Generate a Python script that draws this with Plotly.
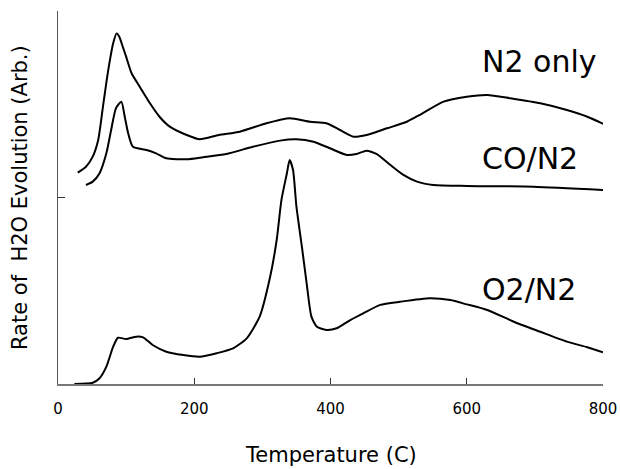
import plotly.graph_objects as go

# Temperature (C) and rate of H2O evolution (arbitrary units)
t_n2 = [29, 41, 51, 59, 66, 73, 81, 86, 90, 95, 100, 108, 120, 135, 149, 164, 189, 208,
        236, 267, 306, 340, 370, 394, 414, 434, 453, 483, 512, 532, 566, 600, 630, 664,
        708, 747, 777, 802]
v_n2 = [113.3, 116.5, 121.9, 130.8, 148.7, 166.6, 182.7, 188.0, 186.2, 180.9, 175.5, 166.6,
        159.4, 150.5, 143.3, 138.0, 133.5, 131.2, 133.5, 135.3, 139.8, 142.5, 140.6, 139.8,
        136.2, 132.6, 133.5, 137.1, 140.6, 144.5, 151.4, 154.0, 155.0, 153.2, 150.5, 146.9,
        143.3, 139.2]

t_co = [41, 51, 61, 71, 78, 85, 93, 98, 103, 110, 130, 144, 159, 189, 213, 247, 286, 326,
        350, 375, 399, 424, 438, 453, 468, 488, 507, 527, 551, 600, 698, 802]
v_co = [106.7, 108.5, 113.0, 123.7, 136.2, 147.8, 151.4, 143.3, 134.4, 127.2, 125.5, 123.7,
        121.0, 120.5, 121.6, 123.3, 127.2, 130.5, 131.2, 129.9, 126.4, 122.8, 123.3, 125.1,
        123.3, 117.4, 112.1, 108.5, 106.7, 106.2, 105.8, 104.0]

t_o2 = [24, 51, 61, 71, 81, 88, 100, 115, 125, 139, 159, 184, 208, 233, 257, 277, 296, 311,
        321, 328, 336, 340, 345, 350, 358, 365, 372, 380, 394, 409, 429, 448, 473, 502,
        546, 576, 600, 630, 669, 708, 747, 777, 800]
v_o2 = [0.0, 0.7, 3.1, 9.3, 20.0, 24.8, 24.1, 25.4, 25.0, 20.9, 17.3, 15.5, 14.6, 16.5,
        19.1, 24.5, 36.1, 56.8, 77.2, 98.7, 113.0, 120.1, 114.7, 95.1, 73.6, 54.0, 36.1,
        30.7, 29.0, 29.9, 34.3, 37.9, 42.4, 44.1, 46.0, 45.0, 42.7, 39.7, 33.4, 28.0, 22.7,
        19.7, 17.0]

series = [("N2 only", t_n2, v_n2, 172.7),
          ("CO/N2", t_co, v_co, 120.9),
          ("O2/N2", t_o2, v_o2, 50.9)]

x_ticks = [0, 200, 400, 600, 800]
y_ticks = [0, 100, 200]

FONT = "DejaVu Sans"

fig = go.Figure()
for name, t, v, _ in series:
    fig.add_trace(go.Scatter(x=t, y=v, mode="lines", name=name,
                             line=dict(color="black", width=2, shape="spline", smoothing=0.6),
                             showlegend=False))

for name, t, v, ylab in series:
    fig.add_annotation(x=620, y=ylab, xref="x", yref="y", text=name, showarrow=False,
                       xanchor="left", yanchor="middle",
                       font=dict(family=FONT, size=30, color="black"))

fig.add_annotation(x=0.5, y=-0.19, xref="paper", yref="paper", text="Temperature (C)",
                   showarrow=False, xanchor="center", yanchor="middle",
                   font=dict(family=FONT, size=21, color="black"))
fig.add_annotation(x=-0.0706, y=0.5, xref="paper", yref="paper",
                   text="Rate of\u00a0\u00a0H2O Evolution (Arb.)", textangle=-90,
                   showarrow=False, xanchor="center", yanchor="middle",
                   font=dict(family=FONT, size=21, color="black"))

fig.update_layout(
    autosize=False,
    width=620, height=469,
    margin=dict(l=58, r=17, t=11, b=85),
    paper_bgcolor="white", plot_bgcolor="white",
    xaxis=dict(range=[0, 800], tickvals=x_ticks, ticktext=[str(v) for v in x_ticks],
               ticks="inside", ticklen=6, tickcolor="#333", showline=True,
               linecolor="#777", linewidth=2, showgrid=False, zeroline=False,
               automargin=False, ticklabeloverflow="allow", ticklabelstandoff=10,
               tickfont=dict(family=FONT, size=15, color="black")),
    yaxis=dict(range=[0, 200], tickvals=y_ticks, ticks="inside", ticklen=7,
               tickcolor="#333", showline=True, linecolor="#555", linewidth=1,
               automargin=False, showticklabels=False, showgrid=False, zeroline=False),
)

fig.write_html("out.html",
               config={"displayModeBar": False, "responsive": False},
               post_script="document.body.style.margin='0';document.body.style.overflow='hidden';")
